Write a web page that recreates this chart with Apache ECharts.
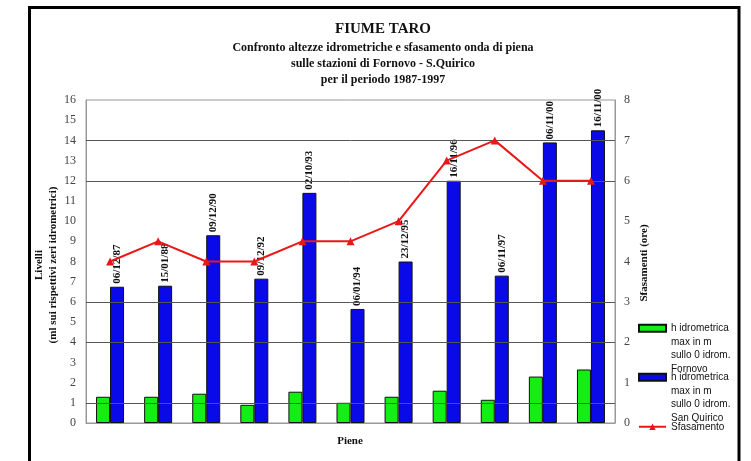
<!DOCTYPE html>
<html>
<head>
<meta charset="utf-8">
<script src="https://cdn.jsdelivr.net/npm/echarts@6/dist/echarts.min.js"></script>
<style>
  html, body { margin: 0; padding: 0; background: #fff; }
  #chart { width: 751px; height: 461px; }
</style>
</head>
<body>
<div id="chart"></div>
<script>
// dati piene 1987-1997
const dates = ["06/12/87", "15/01/88", "09/12/90", "09/12/92", "02/10/93", "06/01/94",
  "23/12/95", "16/11/96", "06/11/97", "06/11/00", "16/11/00"];
const fornovo = [1.3, 1.3, 1.45, 0.9, 1.55, 1.0, 1.3, 1.6, 1.15, 2.3, 2.65];
const sanQuirico = [6.75, 6.8, 9.3, 7.15, 11.4, 5.65, 8.0, 12.0, 7.3, 13.9, 14.5];
const sfasamento = [4, 4.5, 4, 4, 4.5, 4.5, 5, 6.5, 7, 6, 6];
const gridLevels = [1, 4, 6, 12, 14];

const nameF = "h idrometrica\nmax in m\nsullo 0 idrom.\nFornovo";
const nameS = "h idrometrica\nmax in m\nsullo 0 idrom.\nSan Quirico";
const nameL = "Sfasamento";

const serif = "Liberation Serif";
const sans = "Liberation Sans";

let mychart = echarts.init(document.getElementById("chart"));

let legendText = {
  fontFamily: sans,
  fontSize: 10,
  lineHeight: 13.5,
  color: "#111"
};

let option = {
  animation: false,
  backgroundColor: "#fff",
  grid: {
    left: 86,
    top: 100,
    width: 529,
    height: 323,
    show: true,
    borderColor: "#999",
    borderWidth: 1
  },
  legend: [
    {
      data: [nameF],
      left: 638,
      top: 281,
      padding: 0,
      itemWidth: 27,
      itemHeight: 7,
      icon: "rect",
      formatter: n => "\n\n\n" + n,
      textStyle: legendText
    },
    {
      data: [nameS],
      left: 638,
      top: 330,
      padding: 0,
      itemWidth: 27,
      itemHeight: 7,
      icon: "rect",
      formatter: n => "\n\n\n" + n,
      textStyle: legendText
    },
    {
      data: [nameL],
      left: 638,
      top: 420,
      padding: 0,
      itemWidth: 27,
      itemHeight: 8,
      textStyle: legendText
    }
  ],
  xAxis: {
    type: "category",
    data: dates,
    axisLine: { lineStyle: { color: "#999" } },
    axisTick: { show: false },
    axisLabel: { show: false }
  },
  yAxis: [
    {
      type: "value",
      min: 0,
      max: 16,
      interval: 1,
      axisLine: { show: true, lineStyle: { color: "#999" } },
      axisTick: { show: false },
      splitLine: { show: false },
      axisLabel: { fontFamily: serif, fontSize: 12, color: "#444", margin: 10 }
    },
    {
      type: "value",
      min: 0,
      max: 8,
      interval: 1,
      axisLine: { show: true, lineStyle: { color: "#999" } },
      axisTick: { show: false },
      splitLine: { show: false },
      axisLabel: { fontFamily: serif, fontSize: 12, color: "#444", margin: 9 }
    }
  ],
  series: [
    {
      // linee di griglia
      type: "line",
      data: [],
      z: 1,
      silent: true,
      markLine: {
        silent: true,
        symbol: "none",
        label: { show: false },
        lineStyle: { color: "#555", width: 1, type: "solid" },
        data: gridLevels.map(v => ({ yAxis: v }))
      }
    },
    {
      name: nameF,
      type: "bar",
      data: fornovo,
      barWidth: 14,
      barGap: "0%",
      itemStyle: { color: "#14ee14", borderColor: "#111", borderWidth: 1 }
    },
    {
      name: nameS,
      type: "bar",
      data: sanQuirico,
      barWidth: 14,
      itemStyle: { color: "#0a0ae8", borderColor: "#111", borderWidth: 1 },
      label: {
        show: true,
        position: "top",
        rotate: 90,
        align: "left",
        verticalAlign: "middle",
        distance: 3,
        fontFamily: serif,
        fontWeight: "bold",
        fontSize: 11,
        color: "#111",
        formatter: p => dates[p.dataIndex]
      }
    },
    {
      name: nameL,
      type: "line",
      yAxisIndex: 1,
      data: sfasamento,
      symbol: "triangle",
      symbolSize: 8,
      z: 5,
      lineStyle: { color: "#e81818", width: 2 },
      itemStyle: { color: "#e81818" }
    }
  ],
  graphic: [
    {
      type: "rect",
      shape: { x: 29.5, y: 7.5, width: 709.5, height: 480 },
      style: { fill: "none", stroke: "#000", lineWidth: 3 },
      silent: true
    },
    {
      type: "text",
      x: 383,
      y: 29,
      style: {
        text: "FIUME TARO",
        fontFamily: serif, fontWeight: "bold", fontSize: 15,
        fill: "#111", align: "center", verticalAlign: "middle"
      }
    },
    {
      type: "text",
      x: 383,
      y: 63.5,
      style: {
        text: "Confronto altezze idrometriche e sfasamento onda di piena\nsulle stazioni di Fornovo - S.Quirico\nper il periodo 1987-1997",
        fontFamily: serif, fontWeight: "bold", fontSize: 12, lineHeight: 16,
        fill: "#111", align: "center", verticalAlign: "middle"
      }
    },
    {
      type: "text",
      x: 46,
      y: 265,
      rotation: Math.PI / 2,
      style: {
        text: "Livelli\n(ml sui rispettivi zeri idrometrici)",
        fontFamily: serif, fontWeight: "bold", fontSize: 11, lineHeight: 14,
        fill: "#111", align: "center", verticalAlign: "middle"
      }
    },
    {
      type: "text",
      x: 644,
      y: 263,
      rotation: Math.PI / 2,
      style: {
        text: "Sfasamenti (ore)",
        fontFamily: serif, fontWeight: "bold", fontSize: 11,
        fill: "#111", align: "center", verticalAlign: "middle"
      }
    },
    {
      type: "text",
      x: 350,
      y: 441,
      style: {
        text: "Piene",
        fontFamily: serif, fontWeight: "bold", fontSize: 11,
        fill: "#111", align: "center", verticalAlign: "middle"
      }
    }
  ]
};

mychart.setOption(option);
</script>
</body>
</html>
